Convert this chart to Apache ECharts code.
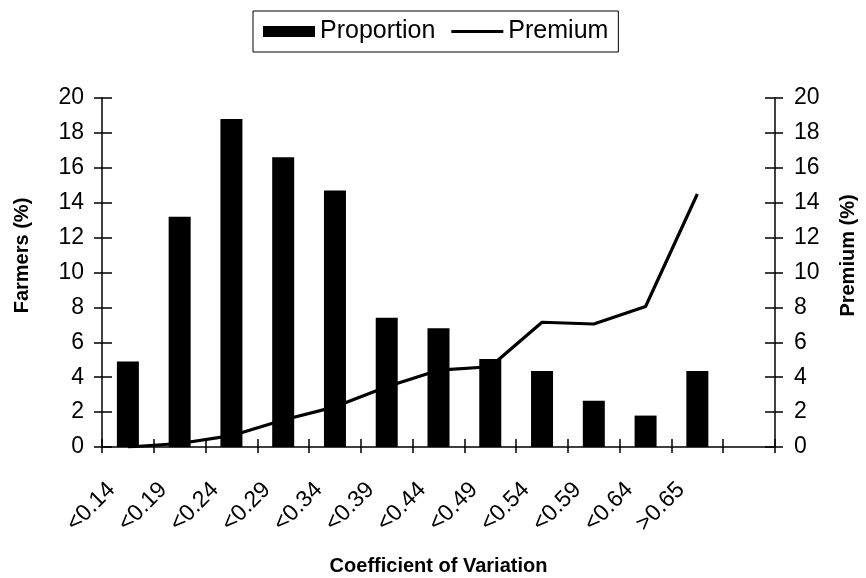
<!DOCTYPE html>
<html>
<head>
<meta charset="utf-8">
<script src="https://cdn.jsdelivr.net/npm/echarts@6/dist/echarts.min.js"></script>
<style>
html,body{margin:0;padding:0;background:#fff;}
#c{width:866px;height:578px;}
</style>
</head>
<body>
<div id="c"></div>
<script>
var categories = ['<0.14','<0.19','<0.24','<0.29','<0.34','<0.39','<0.44','<0.49','<0.54','<0.59','<0.64','>0.65',''];
var proportion = [4.9, 13.2, 18.8, 16.6, 14.7, 7.4, 6.8, 5.05, 4.35, 2.65, 1.8, 4.35, null];
var premium = [0.0, 0.2, 0.65, 1.55, 2.3, 3.45, 4.4, 4.6, 7.15, 7.05, 8.05, 14.5, null];
var yTicks = [0, 20, 2];

var font = 'Liberation Sans, Arial, sans-serif';
var chart = echarts.init(document.getElementById('c'), null, {renderer: 'canvas'});
var gridPos = {left: 102, right: 91, top: 98, bottom: 131, containLabel: false, outerBoundsMode: 'none'};
var yBase = {
  type: 'value', min: yTicks[0], max: yTicks[1], interval: yTicks[2],
  splitLine: {show: false}
};
var nameStyle = {fontSize: 20, fontWeight: 'bold', color: '#000', fontFamily: font};
chart.setOption({
  animation: false,
  backgroundColor: '#fff',
  textStyle: {fontFamily: font},
  legend: {
    top: 11, left: 253,
    data: [
      {name: 'Proportion', icon: 'rect'},
      {name: 'Premium', icon: 'path://M0,0H52V3H0Z'}
    ],
    borderColor: '#000', borderWidth: 1,
    padding: [8, 10, 8, 10],
    itemGap: 16,
    itemWidth: 52, itemHeight: 11,
    textStyle: {fontSize: 25, color: '#000', fontFamily: font}
  },
  grid: gridPos,
  xAxis: [{
    type: 'category', data: categories, boundaryGap: true,
    axisLine: {lineStyle: {color: '#000', width: 1.5}},
    axisTick: {show: true, length: 6, lineStyle: {color: '#000', width: 1.5}},
    axisLabel: {rotate: 45, fontSize: 23, color: '#000', margin: 23, interval: 0,
      padding: [0, 23, 0, 0], fontFamily: font},
    name: 'Coefficient of Variation', nameLocation: 'middle', nameGap: 109,
    nameMoveOverlap: false,
    nameTextStyle: nameStyle
  }, {
    type: 'category', data: categories, position: 'bottom', boundaryGap: true,
    axisLine: {show: false},
    axisTick: {show: true, inside: true, length: 8, lineStyle: {color: '#000', width: 1.5}},
    axisLabel: {show: false}
  }],
  yAxis: [Object.assign({}, yBase, {
    position: 'left',
    axisLine: {show: true, lineStyle: {color: '#000', width: 1.5}},
    axisTick: {show: true, length: 8, lineStyle: {color: '#000', width: 1.5}},
    axisLabel: {fontSize: 23, color: '#000', margin: 18, fontFamily: font},
    name: 'Farmers (%)', nameLocation: 'middle', nameGap: 70, nameRotate: 90,
    nameMoveOverlap: false,
    nameTextStyle: Object.assign({}, nameStyle, {padding: [0, 0, 0, 34]})
  }), Object.assign({}, yBase, {
    position: 'right',
    axisLine: {show: true, lineStyle: {color: '#000', width: 1.5}},
    axisTick: {show: true, length: 8, lineStyle: {color: '#000', width: 1.5}},
    axisLabel: {fontSize: 23, color: '#000', margin: 19, fontFamily: font},
    name: 'Premium (%)', nameLocation: 'middle', nameGap: 63, nameRotate: 90,
    nameMoveOverlap: false,
    nameTextStyle: Object.assign({}, nameStyle, {padding: [0, 0, 0, 34]})
  }), Object.assign({}, yBase, {
    position: 'left', offset: 0,
    axisLine: {show: false},
    axisTick: {show: true, inside: true, length: 10, lineStyle: {color: '#000', width: 1.5}},
    axisLabel: {show: false}
  }), Object.assign({}, yBase, {
    position: 'right', offset: 0,
    axisLine: {show: false},
    axisTick: {show: true, inside: true, length: 10, lineStyle: {color: '#000', width: 1.5}},
    axisLabel: {show: false}
  })],
  series: [{
    name: 'Proportion', type: 'bar', data: proportion,
    xAxisIndex: 0, yAxisIndex: 0,
    barWidth: 22,
    itemStyle: {color: '#000'}
  }, {
    name: 'Premium', type: 'line', data: premium,
    xAxisIndex: 0, yAxisIndex: 1,
    symbol: 'none', showSymbol: false,
    lineStyle: {color: '#000', width: 3.2},
    itemStyle: {color: '#000'}
  }]
});
</script>
</body>
</html>
